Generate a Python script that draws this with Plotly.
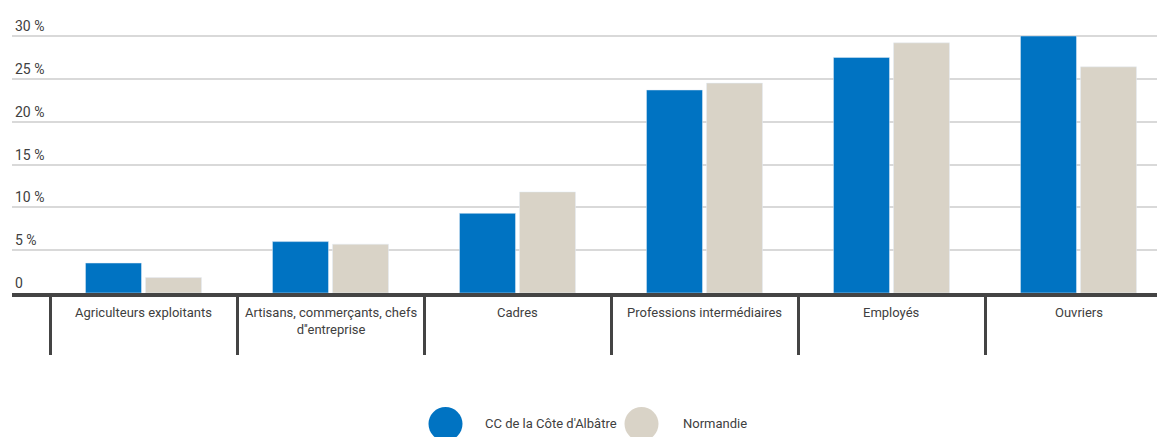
import plotly.graph_objects as go

categories = ["Agriculteurs exploitants", "Artisans, commerçants, chefs<br>d''entreprise",
              "Cadres", "Professions intermédiaires", "Employés", "Ouvriers"]
cc_values = [3.5, 6.0, 9.3, 23.7, 27.5, 30.0]
normandie_values = [1.8, 5.7, 11.8, 24.5, 29.2, 26.4]
series_names = ["CC de la Côte d'Albâtre", "Normandie"]
y_tickvals = [0, 5, 10, 15, 20, 25, 30]
y_ticktext = ["0", "5 %", "10 %", "15 %", "20 %", "25 %", "30 %"]

BLUE = "#0073C2"
BEIGE = "#D9D3C7"
TEXT = "#404040"
FONT = "Roboto, Liberation Sans, sans-serif"
FS = 13

# page body has an 8px margin; figure drawn from (8, 8)
OFF = 8
W, H = 1165 - OFF, 437 - OFF
ML, MR, MT, MB = 12 - OFF, 0, 14 - OFF, 437 - 293
PW = W - ML - MR
PH = H - MT - MB

fig = go.Figure()
fig.add_trace(go.Bar(x=categories, y=cc_values, name=series_names[0],
                     marker_color=BLUE, showlegend=False))
fig.add_trace(go.Bar(x=categories, y=normandie_values, name=series_names[1],
                     marker_color=BEIGE, showlegend=False))

cat_px = 187.0
x0 = -0.5 - (50 - 12) / cat_px
x1 = x0 + PW / cat_px
px_per_unit = (293 - 36) / 30.0
ytop = PH / px_per_unit

fig.update_layout(
    width=W, height=H,
    margin=dict(l=ML, r=MR, t=MT, b=MB, pad=0, autoexpand=False),
    plot_bgcolor="white", paper_bgcolor="white",
    barmode="group", bargap=0.358, bargroupgap=0.067,
    font=dict(family=FONT, size=FS, color=TEXT),
    xaxis=dict(
        type="category", categoryorder="array", categoryarray=categories,
        range=[x0, x1], showticklabels=False,
        tickson="boundaries", ticks="outside", ticklen=58, tickwidth=3, tickcolor="#444444",
        showline=True, linewidth=4, linecolor="#444444", showgrid=False, zeroline=False,
        automargin=False,
    ),
    yaxis=dict(
        range=[0, ytop], tickmode="array", tickvals=y_tickvals, ticktext=y_ticktext,
        ticklabelposition="inside top", showgrid=True, gridcolor="#D9D9D9", gridwidth=2,
        zeroline=False, showline=False, ticks="", tickfont=dict(size=FS + 1, color=TEXT),
        automargin=False,
    ),
)

for c in categories:
    fig.add_annotation(x=c, y=0, xref="x", yref="paper", text=c, showarrow=False,
                       yanchor="top", yshift=-10, font=dict(size=FS, color=TEXT), align="center")

def px_to_paper_x(px):
    return (px - OFF - ML) / PW

def px_to_paper_y(py):
    return (MT + PH - (py - OFF)) / PH

legend_items = [(445.5, 483, series_names[0], BLUE), (641.5, 681, series_names[1], BEIGE)]
for cx, tx, name, col in legend_items:
    fig.add_shape(type="circle", xref="paper", yref="paper",
                  xsizemode="pixel", ysizemode="pixel",
                  xanchor=px_to_paper_x(cx), yanchor=px_to_paper_y(424),
                  x0=-17, x1=17, y0=-17, y1=17,
                  fillcolor=col, line=dict(width=0))
    fig.add_annotation(x=px_to_paper_x(tx), y=px_to_paper_y(423), xref="paper", yref="paper",
                       text=name, showarrow=False, xanchor="left", yanchor="middle",
                       font=dict(size=FS, color=TEXT))

fig.write_html("out.html")
